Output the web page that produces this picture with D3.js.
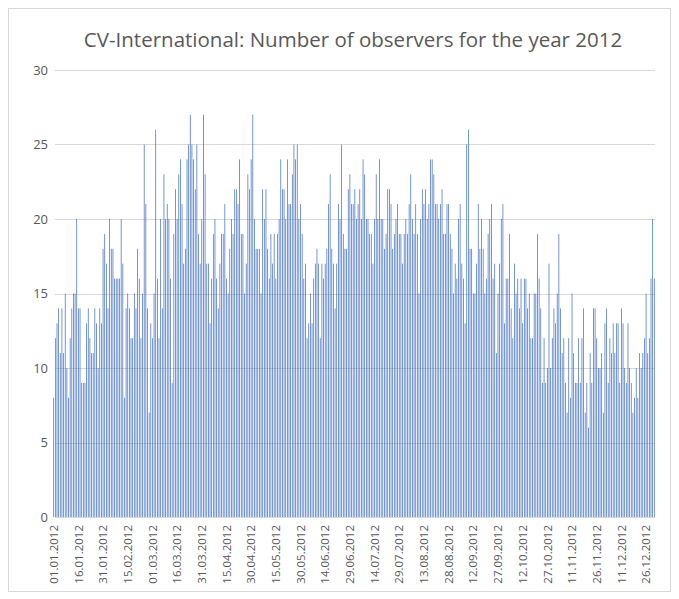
<!DOCTYPE html>
<html><head><meta charset="utf-8">
<script src="https://cdn.jsdelivr.net/npm/d3@7"></script>
<style>body{margin:0;background:#fff}svg{display:block}</style>
</head><body>
<svg id="c" width="679" height="599"></svg>
<script>
const title = "CV-International: Number of observers for the year 2012";
const yTicks = [0, 5, 10, 15, 20, 25, 30];
const observers = [
 8,12,13,14,11,14,11,15,10,8,12,14,15,15,20,14,14,9,9,9,13,14,12,11,11,14,13,10,14,13,
 18,19,17,14,20,18,18,16,16,16,16,20,17,8,14,15,14,12,12,15,14,18,16,12,15,25,21,14,7,13,
 12,15,26,16,12,20,14,23,20,21,20,16,9,19,22,20,23,24,21,17,18,24,25,27,25,24,22,25,19,17,20,
 27,23,17,17,13,16,19,20,16,14,17,19,19,21,16,15,18,20,19,22,22,21,24,19,19,15,17,23,22,24,
 27,20,18,18,18,15,22,20,22,18,16,19,17,19,16,19,20,24,22,22,20,24,21,21,23,25,24,25,20,21,19,
 16,17,12,13,15,13,16,17,18,17,12,17,16,17,18,21,23,18,17,14,17,21,20,25,19,18,18,22,23,21,
 21,22,20,21,22,20,24,23,20,20,19,19,17,20,23,20,24,20,20,18,19,22,22,21,18,19,20,21,19,19,
 17,19,20,19,21,23,20,19,21,19,15,20,22,21,22,20,21,24,24,23,21,21,20,21,22,19,19,21,21,19,18,
 15,17,16,20,21,17,16,13,25,26,18,18,15,15,17,21,18,20,18,15,16,19,20,21,16,17,11,15,17,20,
 21,13,16,16,19,14,12,17,15,16,14,16,13,16,16,14,15,12,12,15,15,19,16,14,9,12,9,10,17,10,12,
 14,13,15,19,14,11,12,9,7,12,8,15,11,9,9,12,9,12,14,7,9,6,11,9,14,14,12,10,10,11,
 7,13,14,9,12,11,13,11,13,13,9,14,13,10,9,13,10,9,7,8,10,8,11,10,11,12,15,11,12,16,20,16
];
const fmt = d3.utcFormat("%d.%m.%Y");
const start = Date.UTC(2012, 0, 1);
const dates = observers.map((_, i) => fmt(new Date(start + i * 86400000)));
const labelEvery = 15;

const svg = d3.select("#c");
const W = 679, H = 599;
const m = {left: 53, right: 24, top: 70, bottom: 82};

svg.append("rect").attr("x", 8.5).attr("y", 8.5).attr("width", 662).attr("height", 583)
  .attr("fill", "#fff").attr("stroke", "#d9d9d9");

svg.append("text").attr("x", 353).attr("y", 47).attr("text-anchor", "middle")
  .attr("font-family", "Open Sans, sans-serif").attr("font-size", 20.5).attr("fill", "#595959")
  .text(title);

const x = d3.scaleBand().domain(dates).range([m.left, W - m.right]).paddingInner(0.55).paddingOuter(0.2);
const y = d3.scaleLinear().domain([0, 30]).range([517, 70]);

const grid = svg.append("g");
grid.selectAll("line").data(yTicks.filter(t => t > 0)).join("line")
  .attr("x1", 55).attr("x2", 655).attr("y1", d => Math.round(y(d)) + 0.5).attr("y2", d => Math.round(y(d)) + 0.5)
  .attr("stroke", "#d9d9d9").attr("stroke-width", 1);

svg.append("g").selectAll("rect").data(observers).join("rect")
  .attr("x", (d, i) => x(dates[i])).attr("width", x.bandwidth())
  .attr("y", d => y(d)).attr("height", d => y(0) - y(d))
  .attr("fill", "#4472C4");

svg.append("line").attr("x1", 55).attr("x2", 655).attr("y1", Math.round(y(0)) + 0.5).attr("y2", Math.round(y(0)) + 0.5)
  .attr("stroke", "#d9d9d9");

const yAxis = d3.axisLeft(y).tickValues(yTicks).tickSize(0).tickPadding(0);
const ya = svg.append("g").attr("transform", "translate(48,0)").call(yAxis);
ya.select(".domain").remove();
ya.selectAll("text").attr("font-family", "Open Sans, sans-serif").attr("font-size", 13).attr("fill", "#595959");

const xa = svg.append("g").attr("transform", `translate(0,${y(0)})`)
  .call(d3.axisBottom(x).tickValues(dates.filter((d, i) => i % labelEvery === 0)).tickSize(0));
xa.select(".domain").remove();
xa.selectAll("text")
  .attr("transform", "rotate(-90)")
  .attr("x", -8).attr("y", 0).attr("dy", "0.35em")
  .attr("text-anchor", "end")
  .attr("font-family", "Open Sans, sans-serif").attr("font-size", 11.5).attr("fill", "#595959");
</script>
</body></html>
